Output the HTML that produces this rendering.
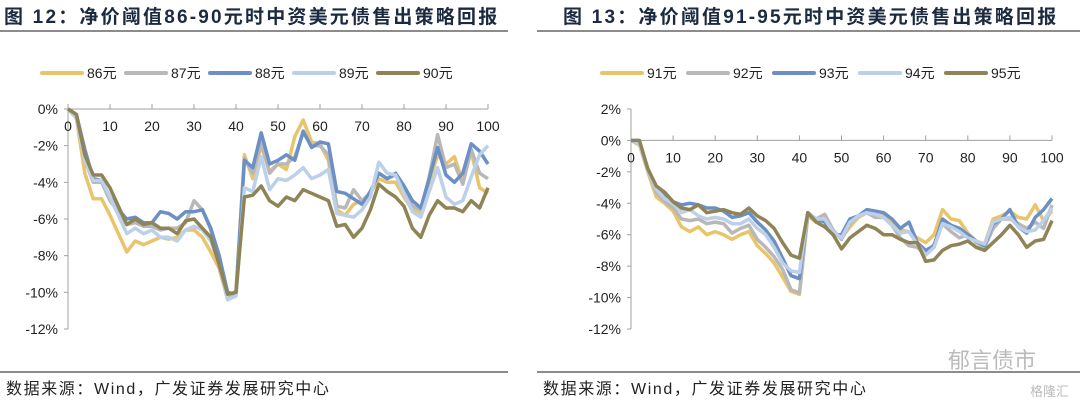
<!DOCTYPE html>
<html><head><meta charset="utf-8">
<style>
body{margin:0;width:1080px;height:408px;background:#fff;overflow:hidden;font-family:"Liberation Sans","Noto Sans CJK SC",sans-serif;}
svg{position:absolute;left:0;top:0}
</style></head>
<body>
<svg id="c" width="1080" height="408"></svg>
<script>
const xs=[0,2,4,6,8,10,12,14,16,18,20,22,24,26,28,30,32,34,36,38,40,42,44,46,48,50,52,54,56,58,60,62,64,66,68,70,72,74,76,78,80,82,84,86,88,90,92,94,96,98,100];
const s86=[0,-0.5,-3.5,-4.9,-4.9,-5.8,-6.8,-7.8,-7.2,-7.4,-7.2,-7.0,-7.1,-7.0,-6.6,-6.6,-7.0,-7.8,-8.7,-10.4,-9.9,-2.5,-3.8,-2.0,-3.4,-3.0,-3.3,-1.5,-0.6,-1.8,-1.9,-2.8,-5.5,-5.8,-5.2,-5.0,-4.6,-3.8,-4.0,-4.0,-4.8,-5.5,-5.7,-4.0,-2.5,-3.0,-2.6,-4.0,-2.3,-4.3,-4.6];
const s87=[0,-0.4,-2.8,-4.0,-4.0,-5.0,-5.6,-6.3,-6.2,-6.4,-6.4,-6.6,-6.5,-6.5,-6.2,-5.0,-5.5,-6.6,-8.5,-10.3,-10.0,-2.7,-3.5,-1.8,-3.5,-3.0,-3.0,-2.6,-1.3,-2.0,-2.0,-2.5,-5.3,-5.4,-4.4,-5.0,-4.6,-3.5,-3.8,-3.6,-4.5,-5.3,-5.5,-3.7,-1.4,-3.2,-3.0,-4.1,-2.2,-3.5,-3.8];
const s88=[0,-0.3,-2.2,-3.8,-3.9,-4.8,-5.5,-6.0,-5.9,-6.2,-6.2,-5.6,-5.7,-6.0,-5.6,-5.6,-5.5,-6.5,-8.0,-10.0,-10.1,-2.8,-3.2,-1.3,-3.0,-2.8,-2.5,-2.8,-1.2,-2.1,-1.8,-1.9,-4.5,-4.6,-4.9,-5.2,-4.5,-3.5,-3.8,-3.5,-4.2,-5.0,-5.4,-3.8,-2.1,-3.6,-4.0,-3.5,-1.9,-2.3,-3.0];
const s89=[0,-0.5,-2.8,-3.9,-3.9,-4.8,-5.8,-6.8,-6.5,-6.8,-6.6,-7.0,-7.0,-7.2,-6.6,-6.4,-6.6,-7.2,-8.5,-10.4,-10.2,-4.3,-4.5,-2.6,-4.4,-3.8,-3.9,-3.6,-3.2,-3.8,-3.6,-3.3,-5.7,-5.8,-5.9,-5.5,-4.8,-2.9,-3.5,-3.6,-4.6,-5.6,-5.9,-4.5,-3.2,-4.8,-5.2,-5.0,-3.7,-2.5,-2.0];
const s90=[0,-0.3,-2.5,-3.6,-3.6,-4.3,-5.3,-6.3,-6.0,-6.3,-6.2,-6.5,-6.5,-6.8,-6.1,-6.0,-6.5,-7.0,-8.5,-10.1,-10.0,-4.8,-4.7,-4.2,-5.0,-5.3,-4.8,-5.0,-4.4,-4.6,-4.8,-5.0,-6.4,-6.3,-7.0,-6.5,-5.5,-4.1,-4.5,-4.8,-5.3,-6.5,-7.0,-5.8,-5.0,-5.4,-5.4,-5.6,-5.0,-5.4,-4.3];
const s91=[0,-0.3,-2.0,-3.6,-4.0,-4.5,-5.5,-5.8,-5.5,-6.0,-5.8,-6.0,-6.3,-6.0,-5.8,-6.7,-7.2,-7.8,-8.7,-9.6,-9.8,-4.8,-5.2,-5.0,-5.8,-6.2,-5.5,-4.9,-4.6,-4.8,-4.8,-5.2,-5.7,-5.8,-6.2,-6.5,-6.0,-4.4,-5.0,-5.1,-5.9,-6.4,-6.6,-5.0,-4.8,-4.5,-4.9,-5.0,-4.1,-5.1,-4.5];
const s92=[0,-0.2,-1.9,-3.3,-3.9,-4.3,-5.0,-5.1,-5.0,-5.3,-5.2,-5.3,-5.9,-5.6,-5.4,-6.3,-6.8,-7.4,-8.2,-9.5,-9.7,-4.7,-5.0,-4.7,-5.7,-6.3,-5.3,-4.8,-4.6,-4.9,-4.9,-5.4,-6.2,-6.7,-6.8,-7.3,-6.6,-5.3,-5.8,-6.2,-6.0,-6.5,-6.8,-5.6,-5.0,-5.0,-5.3,-5.6,-5.2,-5.6,-4.1];
const s93=[0,-0.2,-1.8,-3.0,-3.6,-3.9,-4.1,-4.0,-4.1,-4.3,-4.3,-4.5,-4.9,-4.8,-4.6,-5.2,-5.7,-6.4,-7.5,-8.6,-8.8,-4.6,-5.0,-5.2,-6.0,-6.0,-5.0,-4.8,-4.4,-4.5,-4.6,-5.0,-5.6,-5.2,-6.5,-7.0,-6.7,-5.0,-5.4,-5.6,-6.0,-6.4,-6.7,-5.3,-5.0,-4.4,-5.5,-5.9,-4.9,-4.4,-3.7];
const s94=[0,-0.2,-1.9,-3.1,-3.7,-4.0,-4.6,-4.4,-4.8,-5.0,-4.9,-5.0,-5.3,-5.3,-5.0,-5.6,-6.0,-6.8,-7.8,-8.3,-8.4,-4.6,-5.0,-5.0,-5.8,-6.2,-5.2,-4.8,-4.6,-4.7,-4.9,-5.4,-5.9,-5.8,-6.6,-7.3,-6.8,-5.3,-5.5,-5.8,-6.2,-6.4,-6.6,-5.2,-5.0,-4.9,-5.5,-5.8,-5.7,-5.1,-4.3];
const s95=[0,0,-1.8,-2.9,-3.3,-3.9,-4.3,-4.4,-4.1,-4.6,-4.5,-4.4,-4.6,-4.7,-4.3,-4.8,-5.1,-5.6,-6.5,-7.3,-7.5,-4.6,-5.2,-5.5,-6.0,-6.9,-6.2,-5.8,-5.4,-5.6,-6.0,-6.0,-6.3,-6.5,-6.5,-7.7,-7.6,-7.0,-6.7,-6.6,-6.4,-6.8,-7.0,-6.5,-6.0,-5.4,-6.0,-6.8,-6.4,-6.3,-5.1];
const xTicks=[0,10,20,30,40,50,60,70,80,90,100];
const yTicksL=[0,-2,-4,-6,-8,-10,-12];
const yTicksR=[2,0,-2,-4,-6,-8,-10,-12];
const labelsL=["86元","87元","88元","89元","90元"];
const labelsR=["91元","92元","93元","94元","95元"];
const colors=["#E8C46A","#B8B8B8","#6C8FC6","#BCD0EA","#8E8456"];
const NS="http://www.w3.org/2000/svg";
const svg=document.getElementById('c');
function el(t,a,p){const e=document.createElementNS(NS,t);for(const k in a)e.setAttribute(k,a[k]);(p||svg).appendChild(e);return e;}
function txt(s,a,p){const e=el('text',a,p);e.textContent=s;return e;}

function panel(o){
  const g=el('g',{});
  
  
  const t=txt(o.title,{x:o.tx,y:23,'font-size':19,'font-weight':'bold',fill:'#1b2a40','letter-spacing':2.2},g);
  
  
  el('line',{x1:o.lx0,x2:o.lx1,y1:31,y2:31,stroke:'#666','stroke-width':1.5},g);
  el('line',{x1:o.lx0,x2:o.lx1,y1:372,y2:372,stroke:'#666','stroke-width':1.5},g);
  const src=txt('数据来源：Wind，广发证券发展研究中心',{x:o.lx0+6,y:394,'font-size':16,fill:'#222','letter-spacing':1.6},g);
  
  
  const X=v=>o.x0+(v/100)*(o.x1-o.x0);
  const Y=v=>o.y0+(o.ymax-v)/(o.ymax-o.ymin)*(o.y1-o.y0);
  el('line',{x1:o.x0,x2:o.x0,y1:o.y0,y2:o.y1,stroke:'#a0a0a0','stroke-width':1},g);
  o.yTicks.forEach(v=>{
    el('line',{x1:o.x0-4,x2:o.x0,y1:Y(v),y2:Y(v),stroke:'#a0a0a0'},g);
    const l=txt(v+'%',{x:o.x0-10,y:Y(v)+5,'font-size':14,'text-anchor':'end',fill:'#222'},g);
    
    
  });
  el('line',{x1:o.x0,x2:o.x1,y1:Y(0),y2:Y(0),stroke:'#a0a0a0'},g);
  xTicks.forEach(v=>{
    el('line',{x1:X(v),x2:X(v),y1:Y(0)-5,y2:Y(0),stroke:'#a0a0a0'},g);
    const l=txt(String(v),{x:X(v),y:Y(0)+22,'font-size':14,'text-anchor':'middle',fill:'#222'},g);
    
    
  });
  o.series.forEach((s,i)=>{
    const d=s.map((v,j)=>(j?'L':'M')+X(xs[j]).toFixed(1)+','+Y(v).toFixed(1)).join('');
    const p=el('path',{d:d,fill:'none',stroke:colors[i],'stroke-width':3.5,'stroke-linejoin':'round'},g);
    
    
    const lg=el('g',{},g);
    
    
    const lx=o.legX+i*o.legStep;
    el('line',{x1:lx,x2:lx+40,y1:73,y2:73,stroke:colors[i],'stroke-width':4,'stroke-linecap':'round'},lg);
    txt(o.labels[i],{x:lx+45,y:78,'font-size':14,fill:'#222'},lg);
  });
}
panel({name:'left-chart',title:'图 12：净价阈值86-90元时中资美元债售出策略回报',tx:4,lx0:0,lx1:508,
  x0:68,x1:488,y0:109,y1:329,ymax:0,ymin:-12,yTicks:yTicksL,series:[s86,s87,s88,s89,s90],labels:labelsL,legX:42,legStep:84});
panel({name:'right-chart',title:'图 13：净价阈值91-95元时中资美元债售出策略回报',tx:563,lx0:537,lx1:1080,
  x0:631,x1:1052,y0:109,y1:329,ymax:2,ymin:-12,yTicks:yTicksR,series:[s91,s92,s93,s94,s95],labels:labelsR,legX:602,legStep:86});
const wm=txt('郁言债市',{x:948,y:368,'font-size':22,fill:'#bbb'});


const wm2=txt('格隆汇',{x:1030,y:396,'font-size':13,fill:'#bbb'});


</script>
</body></html>
